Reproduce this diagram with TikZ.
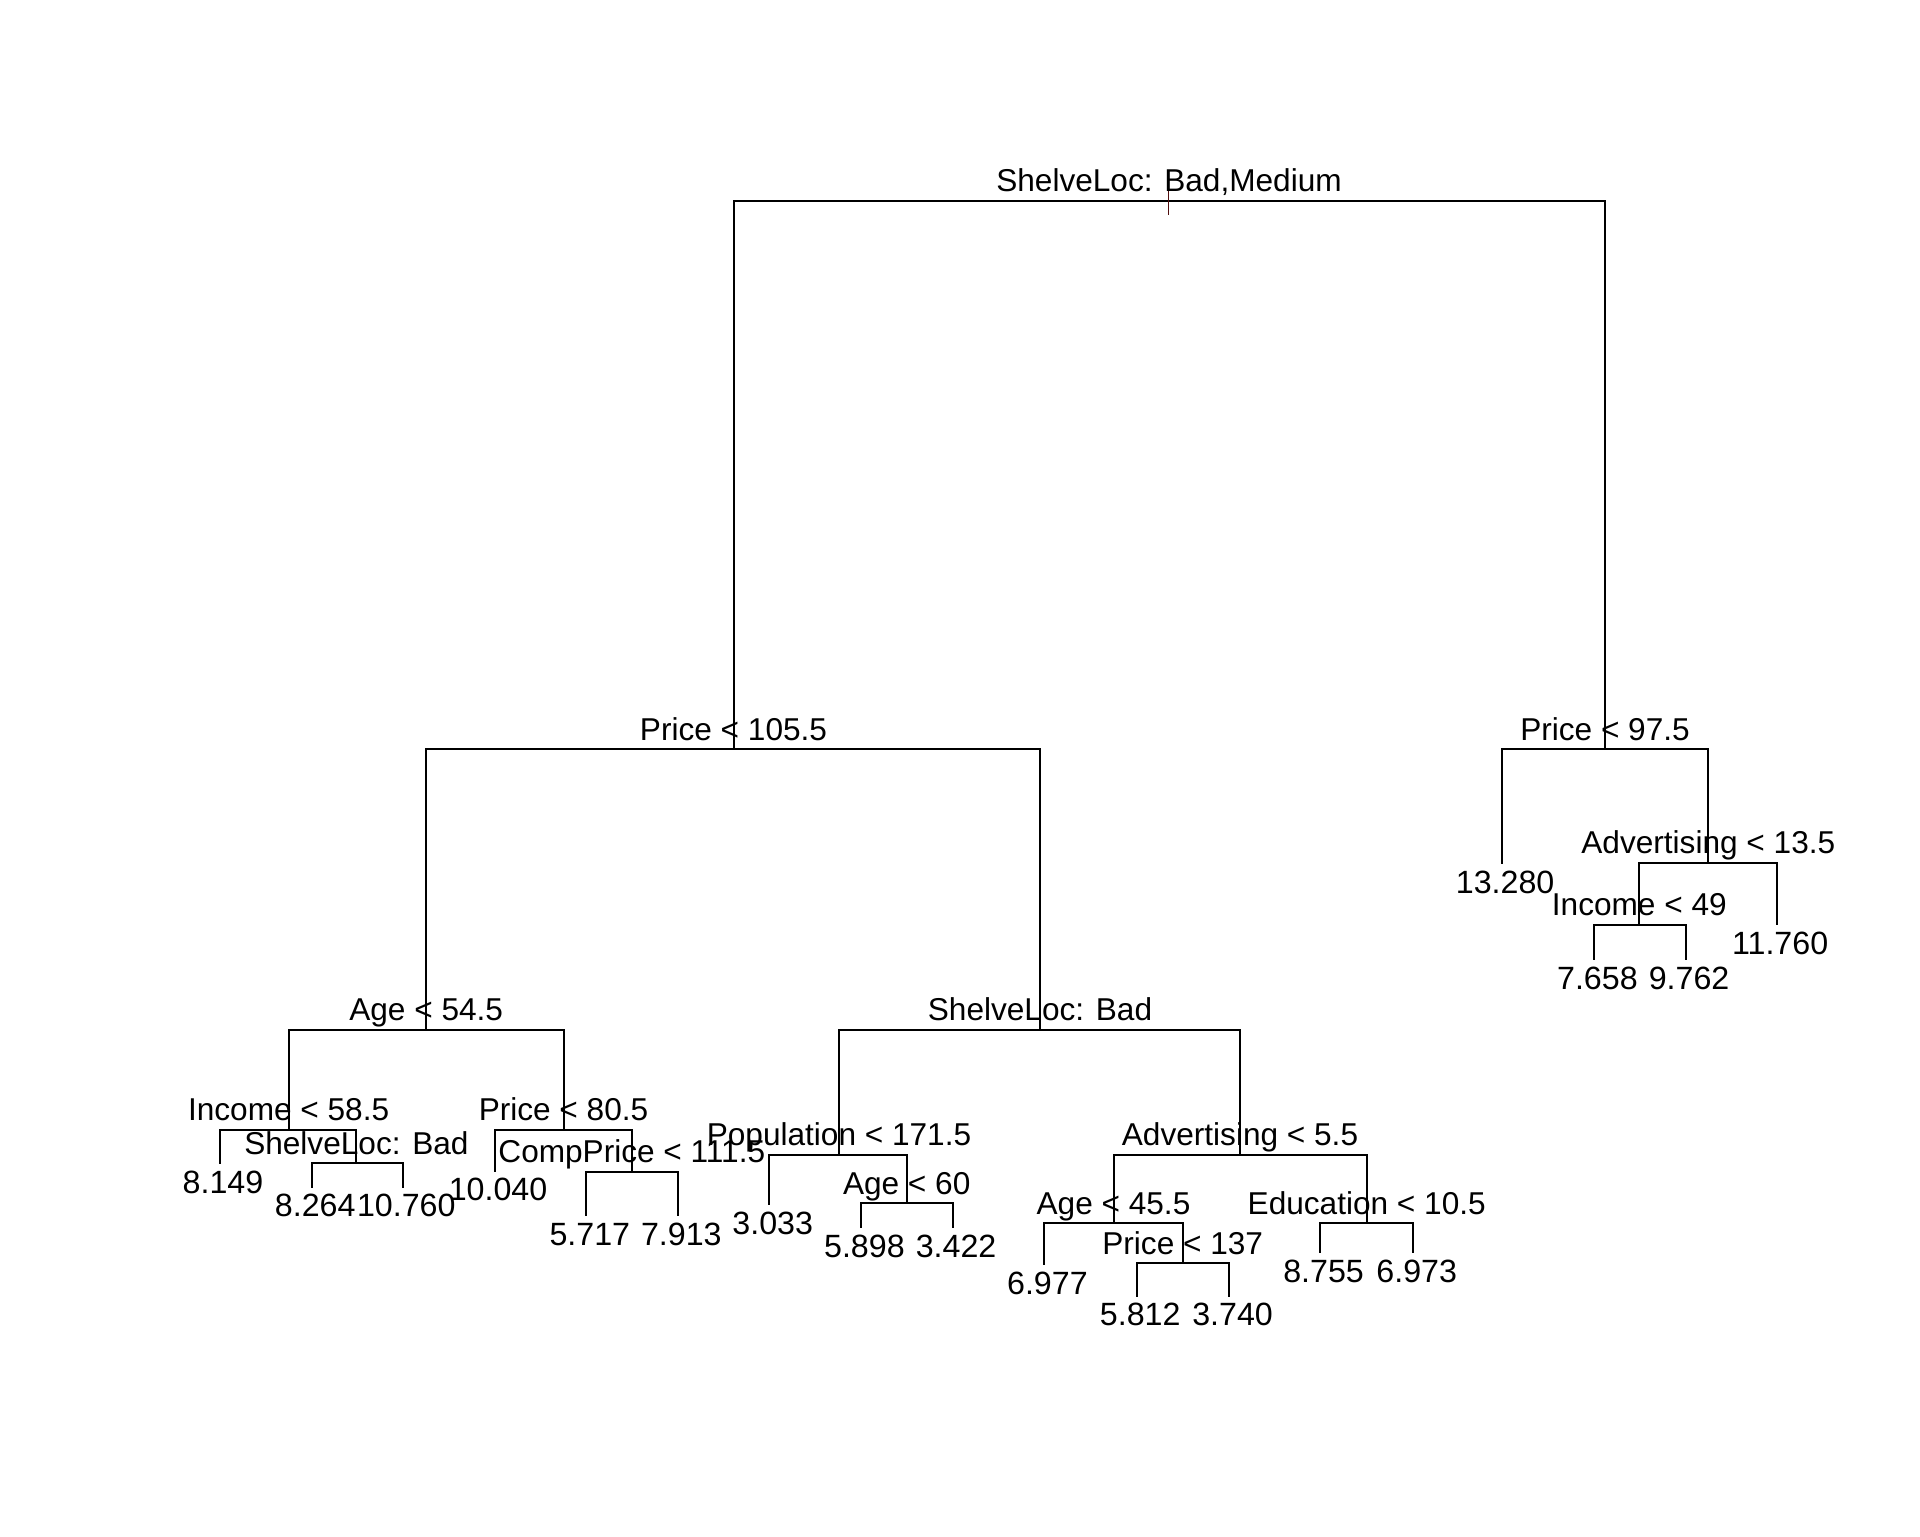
\documentclass[tikz,border=0pt]{standalone}
\usepackage{fontspec}
\setmainfont{Liberation Sans}
\definecolor{tickcol}{RGB}{80,15,15}
\tikzset{
  treeedge/.style={line width=1pt, draw=black},
  tickline/.style={line width=0.7pt, draw=tickcol},
  splitlab/.style={anchor=base, inner sep=0pt, yshift=4.6pt, font=\fontsize{15.8pt}{19pt}\selectfont},
  leaflab/.style={anchor=base, inner sep=0pt, yshift=-14.6pt, xshift=1.7pt, font=\fontsize{16.1pt}{19pt}\selectfont}
}
\begin{document}
\begin{tikzpicture}[x=0.5pt,y=-0.5pt]
\useasboundingbox (0,0) rectangle (1920,1536);
% internal nodes and leaf ends
\coordinate (root) at (1169,200.7);
\coordinate (nA) at (733.5,749.3);
\coordinate (nB) at (1605,749.3);
\coordinate (lB1) at (1501.7,864);
\coordinate (nB2) at (1708.3,862.7);
\coordinate (nB21) at (1639.3,925);
\coordinate (lB211) at (1594,960);
\coordinate (lB212) at (1685.7,960);
\coordinate (lB22) at (1776.7,925);
\coordinate (nA1) at (426.2,1029.5);
\coordinate (nA11) at (288.6,1130);
\coordinate (lA111) at (219.6,1164);
\coordinate (nA112) at (356.4,1163.3);
\coordinate (lA1121) at (311.8,1187.7);
\coordinate (lA1122) at (402.9,1187.7);
\coordinate (nA12) at (563.5,1130);
\coordinate (lA121) at (494.6,1171.7);
\coordinate (nA122) at (631.8,1171.7);
\coordinate (lA1221) at (586.4,1216);
\coordinate (lA1222) at (677.9,1216);
\coordinate (nA2) at (1040,1029.5);
\coordinate (nA21) at (839,1155);
\coordinate (lA211) at (769.3,1205);
\coordinate (nA212) at (906.7,1203.3);
\coordinate (lA2121) at (861,1228.3);
\coordinate (lA2122) at (952.7,1228.3);
\coordinate (nA22) at (1240,1155);
\coordinate (nA221) at (1113.5,1223.3);
\coordinate (lA2211) at (1044,1265);
\coordinate (nA2212) at (1182.7,1263.3);
\coordinate (lA22121) at (1136.8,1296.7);
\coordinate (lA22122) at (1229.2,1296.7);
\coordinate (nA222) at (1366.7,1223.3);
\coordinate (lA2221) at (1320.2,1253.3);
\coordinate (lA2222) at (1413.3,1253.3);
\coordinate (tickTop) at (1168.3,182);
\coordinate (tickBot) at (1168.3,215);
% edges
\draw[treeedge] (root) -| (nA);
\draw[treeedge] (root) -| (nB);
\draw[treeedge] (nB) -| (lB1);
\draw[treeedge] (nB) -| (nB2);
\draw[treeedge] (nB2) -| (nB21);
\draw[treeedge] (nB2) -| (lB22);
\draw[treeedge] (nB21) -| (lB211);
\draw[treeedge] (nB21) -| (lB212);
\draw[treeedge] (nA) -| (nA1);
\draw[treeedge] (nA) -| (nA2);
\draw[treeedge] (nA1) -| (nA11);
\draw[treeedge] (nA1) -| (nA12);
\draw[treeedge] (nA11) -| (lA111);
\draw[treeedge] (nA11) -| (nA112);
\draw[treeedge] (nA112) -| (lA1121);
\draw[treeedge] (nA112) -| (lA1122);
\draw[treeedge] (nA12) -| (lA121);
\draw[treeedge] (nA12) -| (nA122);
\draw[treeedge] (nA122) -| (lA1221);
\draw[treeedge] (nA122) -| (lA1222);
\draw[treeedge] (nA2) -| (nA21);
\draw[treeedge] (nA2) -| (nA22);
\draw[treeedge] (nA21) -| (lA211);
\draw[treeedge] (nA21) -| (nA212);
\draw[treeedge] (nA212) -| (lA2121);
\draw[treeedge] (nA212) -| (lA2122);
\draw[treeedge] (nA22) -| (nA221);
\draw[treeedge] (nA22) -| (nA222);
\draw[treeedge] (nA221) -| (lA2211);
\draw[treeedge] (nA221) -| (nA2212);
\draw[treeedge] (nA2212) -| (lA22121);
\draw[treeedge] (nA2212) -| (lA22122);
\draw[treeedge] (nA222) -| (lA2221);
\draw[treeedge] (nA222) -| (lA2222);
\draw[tickline] (tickTop) -- (tickBot);
% split labels
\node[splitlab] (tRoot) at (root) {ShelveLoc: Bad,Medium};
\node[splitlab] (tA) at (nA) {Price < 105.5};
\node[splitlab] (tB) at (nB) {Price < 97.5};
\node[splitlab] (tB2) at (nB2) {Advertising < 13.5};
\node[splitlab] (tB21) at (nB21) {Income < 49};
\node[splitlab] (tA1) at (nA1) {Age < 54.5};
\node[splitlab] (tA11) at (nA11) {Income < 58.5};
\node[splitlab] (tA112) at (nA112) {ShelveLoc: Bad};
\node[splitlab] (tA12) at (nA12) {Price < 80.5};
\node[splitlab] (tA122) at (nA122) {CompPrice < 111.5};
\node[splitlab] (tA2) at (nA2) {ShelveLoc: Bad};
\node[splitlab] (tA21) at (nA21) {Population < 171.5};
\node[splitlab] (tA212) at (nA212) {Age < 60};
\node[splitlab] (tA22) at (nA22) {Advertising < 5.5};
\node[splitlab] (tA221) at (nA221) {Age < 45.5};
\node[splitlab] (tA2212) at (nA2212) {Price < 137};
\node[splitlab] (tA222) at (nA222) {Education < 10.5};
% leaf labels
\node[leaflab] (vB1) at (lB1) {13.280};
\node[leaflab] (vB211) at (lB211) {7.658};
\node[leaflab] (vB212) at (lB212) {9.762};
\node[leaflab] (vB22) at (lB22) {11.760};
\node[leaflab] (vA111) at (lA111) {8.149};
\node[leaflab] (vA1121) at (lA1121) {8.264};
\node[leaflab] (vA1122) at (lA1122) {10.760};
\node[leaflab] (vA121) at (lA121) {10.040};
\node[leaflab] (vA1221) at (lA1221) {5.717};
\node[leaflab] (vA1222) at (lA1222) {7.913};
\node[leaflab] (vA211) at (lA211) {3.033};
\node[leaflab] (vA2121) at (lA2121) {5.898};
\node[leaflab] (vA2122) at (lA2122) {3.422};
\node[leaflab] (vA2211) at (lA2211) {6.977};
\node[leaflab] (vA22121) at (lA22121) {5.812};
\node[leaflab] (vA22122) at (lA22122) {3.740};
\node[leaflab] (vA2221) at (lA2221) {8.755};
\node[leaflab] (vA2222) at (lA2222) {6.973};
\end{tikzpicture}
\end{document}
